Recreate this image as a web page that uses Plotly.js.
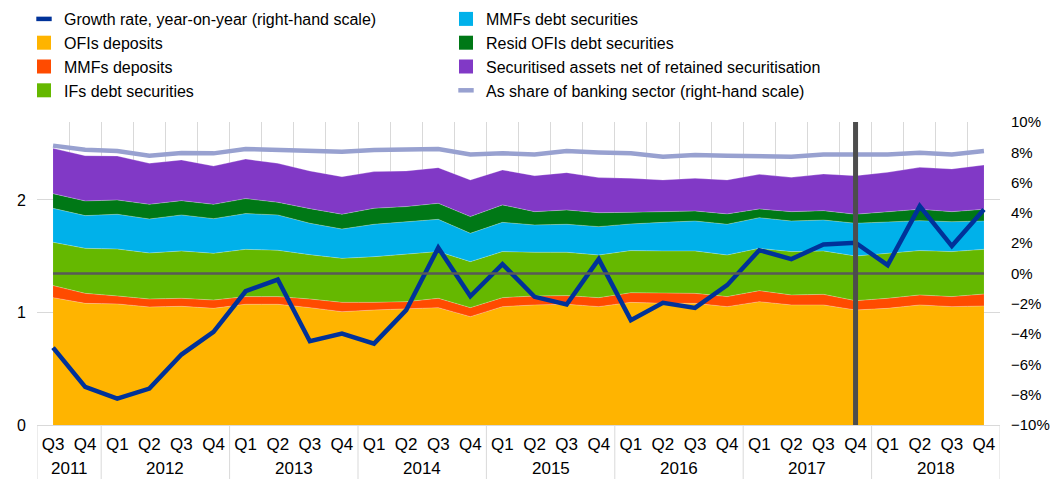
<!DOCTYPE html>
<html>
<head>
<meta charset="utf-8">
<script src="https://cdn.plot.ly/plotly-3.0.1.min.js"></script>
<style>
  html, body { margin: 0; padding: 0; background: #ffffff; }
  #chart { width: 1051px; height: 479px; }
</style>
</head>
<body>
<div id="chart"></div>
<script>
// ---- Data ----
const years = ['2011','2011',
  '2012','2012','2012','2012',
  '2013','2013','2013','2013',
  '2014','2014','2014','2014',
  '2015','2015','2015','2015',
  '2016','2016','2016','2016',
  '2017','2017','2017','2017',
  '2018','2018','2018','2018'];
const quarters = ['Q3','Q4',
  'Q1','Q2','Q3','Q4',
  'Q1','Q2','Q3','Q4',
  'Q1','Q2','Q3','Q4',
  'Q1','Q2','Q3','Q4',
  'Q1','Q2','Q3','Q4',
  'Q1','Q2','Q3','Q4',
  'Q1','Q2','Q3','Q4'];

// left-hand scale (stacked components)
const ofisDeposits = [1.132,1.081,1.076,1.049,1.055,1.037,1.073,1.073,1.043,1.007,
  1.022,1.031,1.043,0.963,1.052,1.067,1.073,1.052,1.090,1.081,
  1.081,1.052,1.096,1.067,1.067,1.022,1.037,1.067,1.052,1.058];
const mmfsDeposits = [0.107,0.089,0.071,0.071,0.071,0.074,0.068,0.068,0.077,0.083,
  0.068,0.065,0.083,0.080,0.080,0.080,0.077,0.080,0.086,0.089,
  0.089,0.089,0.098,0.089,0.094,0.083,0.089,0.089,0.089,0.106];
const ifsDebt = [0.385,0.400,0.417,0.409,0.421,0.415,0.420,0.412,0.394,0.391,
  0.406,0.421,0.415,0.409,0.409,0.388,0.385,0.379,0.374,0.377,
  0.377,0.370,0.376,0.385,0.386,0.397,0.400,0.394,0.400,0.397];
const mmfsDebt = [0.302,0.291,0.309,0.302,0.320,0.308,0.318,0.314,0.279,0.261,
  0.288,0.290,0.287,0.252,0.260,0.243,0.249,0.252,0.237,0.254,
  0.266,0.273,0.273,0.272,0.275,0.291,0.281,0.266,0.266,0.252];
const residOfisDebt = [0.130,0.130,0.127,0.130,0.127,0.127,0.133,0.112,0.130,0.131,
  0.142,0.134,0.142,0.148,0.155,0.118,0.127,0.124,0.103,0.095,
  0.089,0.092,0.077,0.083,0.083,0.080,0.089,0.101,0.089,0.104];
const securitised = [0.403,0.403,0.391,0.365,0.362,0.341,0.352,0.347,0.335,0.334,
  0.326,0.317,0.317,0.326,0.311,0.320,0.332,0.312,0.303,0.282,
  0.291,0.302,0.308,0.305,0.326,0.343,0.350,0.373,0.380,0.394];

// right-hand scale (%)
const growthRate = [-4.89,-7.49,-8.26,-7.60,-5.35,-3.85,-1.17,-0.40,-4.47,-3.96,
  -4.63,-2.42,1.70,-1.50,0.62,-1.54,-2.05,0.95,-3.08,-1.94,
  -2.27,-0.77,1.54,0.95,1.92,2.03,0.55,4.45,1.81,4.23];
const shareOfBanking = [8.44,8.17,8.08,7.78,7.95,7.93,8.22,8.15,8.08,8.04,
  8.15,8.17,8.22,7.86,7.93,7.86,8.08,7.99,7.93,7.71,
  7.82,7.77,7.77,7.71,7.86,7.86,7.86,7.97,7.86,8.08];

const leftTicks = [0, 1, 2];
const markerYear = '2017', markerQuarter = 'Q4';

// ---- Styling ----
const FONT = 'Liberation Sans, Arial, sans-serif';
const C = {
  growth: '#003299', ofis: '#ffb400', mmfDep: '#ff4b00', ifs: '#65b800',
  mmfDebt: '#00b1ea', resid: '#007816', secur: '#8139c6', share: '#98a1d0'
};

// unique category keys (year + quarter), labelled by quarter only
const xKeys = years.map((y, i) => y + ' ' + quarters[i]);

function area(name, y, color) {
  return {
    type: 'scatter', mode: 'lines', name: name, x: xKeys, y: y,
    stackgroup: 'one', fillcolor: color, showlegend: false,
    line: {width: 0.6, color: 'rgba(255,255,255,0.45)'}, hoverinfo: 'name+y'
  };
}

const traces = [
  area('OFIs deposits', ofisDeposits, C.ofis),
  area('MMFs deposits', mmfsDeposits, C.mmfDep),
  area('IFs debt securities', ifsDebt, C.ifs),
  area('MMFs debt securities', mmfsDebt, C.mmfDebt),
  area('Resid OFIs debt securities', residOfisDebt, C.resid),
  area('Securitised assets net of retained securitisation', securitised, C.secur),
  { type: 'scatter', mode: 'lines', name: 'As share of banking sector (right-hand scale)',
    x: xKeys, y: shareOfBanking, yaxis: 'y2', showlegend: false,
    line: {color: C.share, width: 4.5} },
  { type: 'scatter', mode: 'lines', name: 'Growth rate, year-on-year (right-hand scale)',
    x: xKeys, y: growthRate, yaxis: 'y2', showlegend: false,
    line: {color: C.growth, width: 4.5} }
];

// legend-only entries (no data points drawn)
function legendEntry(name, color, kind, legend) {
  const t = {
    type: 'scatter', mode: 'markers', name: name,
    x: [xKeys[0]], y: [null], legend: legend, hoverinfo: 'skip'
  };
  if (kind === 'line') {
    t.marker = {symbol: 'line-ew', size: 11, line: {width: 4.5, color: color}};
  } else {
    t.marker = {symbol: 'square', size: 14, color: color, line: {width: 0}};
  }
  return t;
}
traces.push(
  legendEntry('Growth rate, year-on-year (right-hand scale)', C.growth, 'line', 'legend'),
  legendEntry('OFIs deposits', C.ofis, 'sq', 'legend'),
  legendEntry('MMFs deposits', C.mmfDep, 'sq', 'legend'),
  legendEntry('IFs debt securities', C.ifs, 'sq', 'legend'),
  legendEntry('MMFs debt securities', C.mmfDebt, 'sq', 'legend2'),
  legendEntry('Resid OFIs debt securities', C.resid, 'sq', 'legend2'),
  legendEntry('Securitised assets net of retained securitisation', C.secur, 'sq', 'legend2'),
  legendEntry('As share of banking sector (right-hand scale)', C.share, 'line', 'legend2')
);

// position of the vertical marker line
const markerIdx = xKeys.indexOf(markerYear + ' ' + markerQuarter);

// year groups: centre label + divider lines at group boundaries
const PLOT_H = 479 - 122 - 54;
const annotations = [];
const shapes = [];
let start = 0;
for (let i = 1; i <= years.length; i++) {
  if (i === years.length || years[i] !== years[start]) {
    annotations.push({
      xref: 'x', yref: 'paper', x: (start + i - 1) / 2, y: -43 / PLOT_H,
      xanchor: 'center', yanchor: 'middle', showarrow: false, text: years[start],
      font: {family: FONT, size: 17, color: '#000000'}
    });
    start = i;
  }
}
const boundaries = [-0.5];
for (let i = 1; i < years.length; i++) { if (years[i] !== years[i - 1]) boundaries.push(i - 0.5); }
boundaries.push(years.length - 0.5);
boundaries.forEach(b => shapes.push({
  type: 'line', xref: 'x', yref: 'paper', x0: b, x1: b, y0: 0, y1: -54 / PLOT_H,
  line: {color: '#d9d9d9', width: 1}, layer: 'below'
}));
shapes.push(
  { type: 'line', xref: 'x', yref: 'y2', x0: 0, x1: years.length - 1, y0: 0, y1: 0,
    line: {color: '#595959', width: 2.5}, layer: 'above' },
  { type: 'line', xref: 'x', yref: 'paper', x0: markerIdx, x1: markerIdx, y0: 0, y1: 1,
    line: {color: '#4d4d4d', width: 5}, layer: 'above' }
);

const legendBase = {
  xref: 'container', yref: 'container', xanchor: 'left', yanchor: 'top',
  orientation: 'v', bgcolor: 'rgba(0,0,0,0)', borderwidth: 0,
  font: {family: FONT, size: 16, color: '#000000'}, tracegroupgap: 0,
  traceorder: 'normal', itemclick: false, itemdoubleclick: false
};

const layout = {
  width: 1051, height: 479,
  paper_bgcolor: '#ffffff', plot_bgcolor: '#ffffff',
  margin: {l: 37, r: 51, t: 122, b: 54, pad: 0, autoexpand: false},
  font: {family: FONT, color: '#000000'},
  showlegend: true,
  legend: Object.assign({}, legendBase, {x: 24 / 1051, y: 1 - 2 / 479}),
  legend2: Object.assign({}, legendBase, {x: 446 / 1051, y: 1 - 2 / 479}),
  xaxis: {
    type: 'category', tickvals: xKeys, ticktext: quarters, tickson: 'boundaries',
    range: [-0.5, years.length - 0.5],
    showgrid: true, gridcolor: '#d9d9d9', gridwidth: 1,
    showline: true, linecolor: '#d9d9d9', linewidth: 1, tickangle: 0,
    tickfont: {family: FONT, size: 17, color: '#000000'}, ticks: '',
    ticklabelstandoff: 4, zeroline: false, fixedrange: true, automargin: false
  },
  yaxis: {
    range: [0, 2.693], tickvals: leftTicks, ticktext: leftTicks.map(String),
    showgrid: true, gridcolor: '#d9d9d9', gridwidth: 1, zeroline: false,
    showline: false, ticks: '', ticklabelstandoff: 10, automargin: false,
    tickfont: {family: FONT, size: 16, color: '#000000'}, fixedrange: true
  },
  yaxis2: {
    overlaying: 'y', side: 'right', range: [-10, 10], dtick: 2, tick0: 0,
    ticksuffix: '%', showgrid: false, zeroline: false, showline: false,
    ticks: '', ticklabelstandoff: 10, automargin: false,
    tickfont: {family: FONT, size: 15, color: '#000000'}, fixedrange: true
  },
  annotations: annotations,
  shapes: shapes
};

Plotly.newPlot('chart', traces, layout, {displayModeBar: false, staticPlot: true});
</script>
</body>
</html>
